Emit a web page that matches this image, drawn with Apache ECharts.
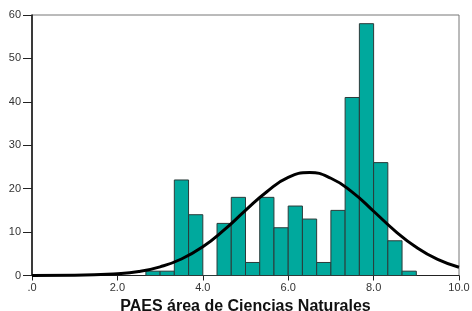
<!DOCTYPE html>
<html lang="es" style="height: 100%">
<head>
  <meta charset="utf-8">
</head>
<body style="height: 100%; margin: 0; background: #fff">
  <div id="container" style="width: 472px; height: 311px"></div>

  <script type="text/javascript" src="https://cdn.jsdelivr.net/npm/echarts@6/dist/echarts.min.js"></script>

  <script type="text/javascript">
    // histogram bins (start of each bin), all bins are 1/3 wide
    var binWidth = 0.3333;
    var binStarts = [2.667, 3.0, 3.333, 3.667, 4.0, 4.333, 4.667, 5.0, 5.333, 5.667,
                     6.0, 6.333, 6.667, 7.0, 7.333, 7.667, 8.0, 8.333, 8.667];
    var counts = [1, 1, 22, 14, 0, 12, 18, 3, 18, 11,
                  16, 13, 3, 15, 41, 58, 26, 8, 1];

    // normal curve
    var curveX = [0, 1, 2, 2.5, 3, 3.5, 4, 4.5, 5, 5.5, 6, 6.5, 7, 7.5, 8, 8.5, 9, 9.5, 10];
    var curveY = [0.0, 0.05, 0.4, 0.9, 2.0, 3.8, 6.6, 10.5, 15.0, 19.3, 22.6, 23.7,
                  22.4, 19.2, 14.8, 10.3, 6.5, 3.7, 1.9];

    var xTicks = [0, 2, 4, 6, 8, 10];
    var yTicks = [0, 10, 20, 30, 40, 50, 60];

    var dom = document.getElementById('container');
    var myChart = echarts.init(dom, null, { renderer: 'canvas' });

    var bars = binStarts.map(function (s, i) { return [s, s + binWidth, counts[i]]; });
    var curve = curveX.map(function (x, i) { return [x, curveY[i]]; });

    var font = 'Liberation Sans';

    var option = {
      animation: false,
      grid: {
        left: 32, right: 13, top: 15, bottom: 35.5,
        outerBoundsMode: 'none', containLabel: false,
        show: true, borderColor: '#777', borderWidth: 1
      },
      xAxis: {
        type: 'value',
        min: xTicks[0], max: xTicks[xTicks.length - 1], interval: 2,
        name: 'PAES área de Ciencias Naturales',
        nameLocation: 'middle', nameGap: 20,
        nameTextStyle: { fontFamily: font, fontWeight: 'bold', fontSize: 16, color: '#111' },
        axisLine: { lineStyle: { color: '#222', width: 1 } },
        axisTick: { length: 5, lineStyle: { color: '#222' } },
        axisLabel: {
          margin: 7, fontFamily: font, fontSize: 11, color: '#333',
          formatter: function (v) { return v === 0 ? '.0' : v.toFixed(1); }
        },
        splitLine: { show: false }
      },
      yAxis: {
        type: 'value',
        min: yTicks[0], max: yTicks[yTicks.length - 1], interval: 10,
        axisLine: { show: true, lineStyle: { color: '#111', width: 1.5 } },
        axisTick: { show: true, length: 9, lineStyle: { color: '#222' } },
        axisLabel: { margin: 11, fontFamily: font, fontSize: 11, color: '#333' },
        splitLine: { show: false }
      },
      series: [
        {
          type: 'custom',
          data: bars,
          encode: { x: [0, 1], y: 2 },
          renderItem: function (params, api) {
            var p0 = api.coord([api.value(0), api.value(2)]);
            var p1 = api.coord([api.value(1), 0]);
            return {
              type: 'rect',
              shape: { x: p0[0], y: p0[1], width: p1[0] - p0[0], height: p1[1] - p0[1] },
              style: { fill: '#00a99d', stroke: '#2b3b3a', lineWidth: 1 }
            };
          },
          z: 2
        },
        {
          type: 'line',
          data: curve,
          smooth: true,
          symbol: 'none',
          lineStyle: { color: '#000', width: 3 },
          z: 3
        }
      ]
    };

    myChart.setOption(option);

    window.addEventListener('resize', function () {
      myChart.resize();
    });
  </script>
</body>
</html>
